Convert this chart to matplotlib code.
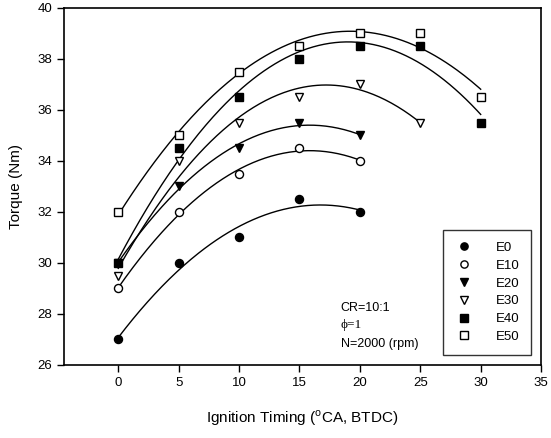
import matplotlib
matplotlib.use("Agg")
import matplotlib.pyplot as plt
import numpy as np

plt.rcParams['font.family'] = ['Liberation Sans', 'DejaVu Sans']
plt.rcParams['mathtext.fontset'] = 'custom'
plt.rcParams['mathtext.rm'] = 'Liberation Sans'

# data
timing_a = [0, 5, 10, 15, 20]
timing_b = [0, 5, 10, 15, 20, 25]
timing_c = [0, 5, 10, 15, 20, 25, 30]
e0 = [27.0, 30.0, 31.0, 32.5, 32.0]
e10 = [29.0, 32.0, 33.5, 34.5, 34.0]
e20 = [30.0, 33.0, 34.5, 35.5, 35.0]
e30 = [29.5, 34.0, 35.5, 36.5, 37.0, 35.5]
e40 = [30.0, 34.5, 36.5, 38.0, 38.5, 38.5, 35.5]
e50 = [32.0, 35.0, 37.5, 38.5, 39.0, 39.0, 36.5]

series = [
    ("E0", timing_a, e0, 'o', 'black'),
    ("E10", timing_a, e10, 'o', 'white'),
    ("E20", timing_a, e20, 'v', 'black'),
    ("E30", timing_b, e30, 'v', 'white'),
    ("E40", timing_c, e40, 's', 'black'),
    ("E50", timing_c, e50, 's', 'white'),
]

fig = plt.figure(figsize=(5.51, 4.38), dpi=100)
ax = fig.add_axes([0.116, 0.167, 0.866, 0.815])

for name, xs, ys, m, fc in series:
    # quadratic regression curve through each series
    coef = np.polyfit(xs, ys, 2)
    xx = np.linspace(min(xs), max(xs), 200)
    ax.plot(xx, np.polyval(coef, xx), color='black', lw=1.0, zorder=2)
    ax.plot(xs, ys, linestyle='none', marker=m, markersize=5.8,
            markerfacecolor=fc, markeredgecolor='black', markeredgewidth=1.0,
            label=name, zorder=3)

ax.set_xlim(-4.5, 35)
ax.set_ylim(26, 40)
ax.set_xticks(np.arange(0, 36, 5))
ax.set_yticks(np.arange(26, 41, 2))
ax.tick_params(direction='out', length=5, width=1, labelsize=9.5, colors='black')
for s in ax.spines.values():
    s.set_linewidth(1.2)

ax.set_xlabel(r"Ignition Timing ($^{\mathrm{o}}$CA, BTDC)", fontsize=11, labelpad=14)
ax.set_ylabel("Torque (Nm)", fontsize=11, labelpad=10)

ax.text(18.4, 28.1, "CR=10:1", fontsize=9)
ax.text(18.4, 27.45, "\u03d5=1", fontsize=9.5, family=['Liberation Serif', 'DejaVu Serif'])
ax.text(18.4, 26.7, "N=2000 (rpm)", fontsize=9)

leg = ax.legend(loc='lower right', bbox_to_anchor=(0.979, 0.028), borderaxespad=0,
                fontsize=9.5, frameon=True, fancybox=False, handletextpad=1.6,
                labelspacing=0.42, borderpad=0.9, handlelength=1.5, markerscale=0.9)
leg.get_frame().set_edgecolor('black')
leg.get_frame().set_linewidth(1.0)

fig.savefig("out.png", dpi=100)
